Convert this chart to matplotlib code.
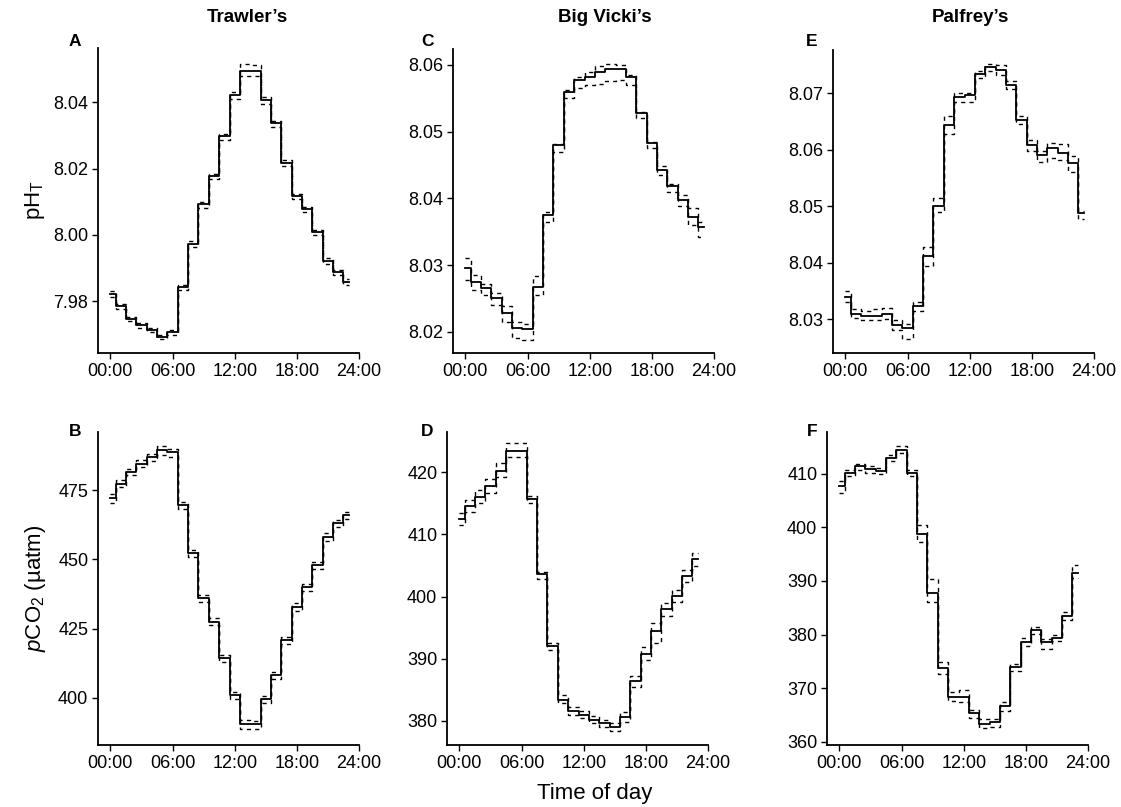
import matplotlib
matplotlib.use("Agg")
import matplotlib.pyplot as plt

plt.rcParams['font.family'] = ['Liberation Sans', 'DejaVu Sans']
plt.rcParams['mathtext.fontset'] = 'custom'
plt.rcParams['mathtext.rm'] = 'Liberation Sans'
plt.rcParams['mathtext.it'] = 'Liberation Sans:italic'
plt.rcParams['mathtext.bf'] = 'Liberation Sans:bold'

# ---------------- data ----------------
hours = list(range(24))
sites = ["Trawler\u2019s", "Big Vicki\u2019s", "Palfrey\u2019s"]
xtick_vals = [0, 6, 12, 18, 24]
xtick_labels = ["00:00", "06:00", "12:00", "18:00", "24:00"]

# Trawler's pH (A)
A_mid = [7.9822, 7.9784, 7.9747, 7.9727, 7.9712, 7.9692, 7.9705, 7.9842, 7.9972, 8.0092, 8.0177, 8.0297,
         8.0422, 8.0494, 8.0494, 8.0407, 8.0337, 8.0217, 8.0117, 8.0077, 8.0007, 7.9922, 7.9887, 7.9857]
A_hi = [7.9830, 7.9792, 7.9752, 7.9733, 7.9718, 7.9698, 7.9712, 7.9848, 7.9980, 8.0100, 8.0185, 8.0305,
        8.0432, 8.0515, 8.0512, 8.0415, 8.0345, 8.0225, 8.0123, 8.0085, 8.0013, 7.9930, 7.9893, 7.9865]
A_lo = [7.9812, 7.9776, 7.9740, 7.9720, 7.9705, 7.9684, 7.9697, 7.9832, 7.9962, 8.0082, 8.0168, 8.0287,
        8.0410, 8.0480, 8.0478, 8.0395, 8.0325, 8.0207, 8.0108, 8.0068, 7.9998, 7.9912, 7.9878, 7.9848]

# Trawler's pCO2 (B)
B_mid = [472.0, 477.4, 481.6, 484.6, 486.8, 489.4, 488.8, 469.6, 452.2, 436.0, 427.5, 414.3,
         401.1, 390.5, 390.5, 399.5, 408.3, 420.9, 432.9, 440.1, 448.0, 458.2, 463.0, 466.0]
B_hi = [473.5, 478.6, 482.8, 485.8, 488.0, 490.8, 489.8, 470.8, 453.4, 437.2, 428.8, 415.5,
        402.3, 392.0, 391.8, 400.8, 409.5, 422.1, 434.1, 441.3, 449.2, 459.4, 464.2, 467.2]
B_lo = [470.4, 476.0, 480.4, 483.2, 485.5, 487.8, 486.8, 468.2, 450.9, 434.6, 426.2, 413.0,
        399.6, 388.6, 388.8, 398.0, 407.0, 419.4, 431.5, 438.7, 446.6, 456.8, 461.6, 464.6]

# Big Vicki's pH (C)
C_mid = [8.0295, 8.0275, 8.0265, 8.0250, 8.0228, 8.0205, 8.0204, 8.0267, 8.0375, 8.0480, 8.0560, 8.0578,
         8.0582, 8.0590, 8.0594, 8.0594, 8.0582, 8.0528, 8.0483, 8.0443, 8.0418, 8.0398, 8.0372, 8.0357]
C_hi = [8.0310, 8.0285, 8.0272, 8.0258, 8.0238, 8.0215, 8.0212, 8.0283, 8.0380, 8.0482, 8.0562, 8.0582,
        8.0590, 8.0598, 8.0602, 8.0600, 8.0585, 8.0530, 8.0485, 8.0448, 8.0422, 8.0405, 8.0385, 8.0365]
C_lo = [8.0278, 8.0262, 8.0255, 8.0240, 8.0215, 8.0190, 8.0188, 8.0255, 8.0365, 8.0470, 8.0550, 8.0565,
        8.0570, 8.0572, 8.0576, 8.0577, 8.0570, 8.0520, 8.0475, 8.0435, 8.0410, 8.0388, 8.0360, 8.0342]

# Big Vicki's pCO2 (D)
D_mid = [412.5, 414.6, 416.0, 417.8, 420.3, 423.5, 423.5, 415.7, 403.6, 392.0, 383.4, 381.5,
         381.0, 380.2, 379.6, 379.0, 380.6, 386.4, 390.7, 394.5, 398.0, 400.1, 403.3, 406.0]
D_hi = [413.5, 415.6, 417.2, 419.0, 421.5, 424.8, 424.8, 416.2, 404.0, 392.5, 384.2, 382.2,
        381.6, 380.8, 380.2, 379.6, 381.4, 387.2, 391.8, 395.8, 399.0, 401.0, 404.2, 407.0]
D_lo = [411.5, 413.6, 415.0, 416.6, 419.2, 422.5, 422.4, 415.0, 402.8, 391.4, 382.8, 380.9,
        380.4, 379.6, 379.0, 378.4, 379.8, 385.5, 389.8, 392.5, 396.8, 399.2, 402.3, 405.0]

# Palfrey's pH (E)
E_mid = [8.0340, 8.0310, 8.0305, 8.0305, 8.0310, 8.0290, 8.0285, 8.0323, 8.0412, 8.0500, 8.0644, 8.0694,
         8.0697, 8.0735, 8.0747, 8.0741, 8.0715, 8.0653, 8.0609, 8.0591, 8.0603, 8.0594, 8.0576, 8.0488]
E_hi = [8.0350, 8.0318, 8.0315, 8.0318, 8.0320, 8.0298, 8.0292, 8.0330, 8.0428, 8.0515, 8.0660, 8.0700,
        8.0700, 8.0740, 8.0753, 8.0750, 8.0722, 8.0660, 8.0618, 8.0598, 8.0612, 8.0610, 8.0590, 8.0492]
E_lo = [8.0330, 8.0302, 8.0298, 8.0298, 8.0300, 8.0280, 8.0265, 8.0315, 8.0395, 8.0490, 8.0628, 8.0685,
        8.0685, 8.0728, 8.0740, 8.0732, 8.0708, 8.0645, 8.0598, 8.0578, 8.0585, 8.0582, 8.0560, 8.0478]

# Palfrey's pCO2 (F)
F_mid = [407.7, 410.2, 411.4, 410.9, 410.5, 413.0, 414.5, 410.2, 398.7, 387.8, 373.7, 368.4,
         368.4, 365.3, 363.4, 363.6, 366.6, 374.0, 378.7, 380.9, 378.7, 379.3, 383.4, 391.5]
F_hi = [408.6, 410.8, 411.9, 411.4, 411.0, 413.6, 415.2, 410.8, 400.4, 390.3, 374.8, 369.2,
        369.6, 365.9, 364.2, 364.3, 367.4, 374.6, 379.4, 381.5, 379.2, 380.0, 384.2, 393.0]
F_lo = [406.4, 409.5, 410.8, 410.2, 409.9, 412.4, 413.8, 409.5, 397.2, 386.0, 372.6, 367.6,
        367.5, 364.5, 362.6, 362.8, 365.8, 373.2, 377.8, 380.2, 377.4, 378.8, 382.7, 390.6]

A_ticks = [7.98, 8.00, 8.02, 8.04]
B_ticks = [400, 425, 450, 475]
C_ticks = [8.02, 8.03, 8.04, 8.05, 8.06]
D_ticks = [380, 390, 400, 410, 420]
E_ticks = [8.03, 8.04, 8.05, 8.06, 8.07]
F_ticks = [360, 370, 380, 390, 400, 410]

# ---------------- layout ----------------
W, H = 1121, 807
fig = plt.figure(figsize=(W / 100, H / 100), dpi=100)

def rect(l, t, r, b):
    return [l / W, 1 - b / H, (r - l) / W, (b - t) / H]

panels = [
    ("A", rect(98, 48, 359, 353), A_mid, A_hi, A_lo, A_ticks, (7.9643, 8.0564), "{:.2f}"),
    ("B", rect(98, 432, 359, 745), B_mid, B_hi, B_lo, B_ticks, (383.0, 496.0), "{:.0f}"),
    ("C", rect(453, 49, 714, 353), C_mid, C_hi, C_lo, C_ticks, (8.0168, 8.0624), "{:.2f}"),
    ("D", rect(447, 432, 708, 745), D_mid, D_hi, D_lo, D_ticks, (376.1, 426.5), "{:.0f}"),
    ("E", rect(833, 50, 1094, 353), E_mid, E_hi, E_lo, E_ticks, (8.0240, 8.0777), "{:.2f}"),
    ("F", rect(827, 432, 1088, 745), F_mid, F_hi, F_lo, F_ticks, (359.4, 417.8), "{:.0f}"),
]

for letter, r, mid, hi, lo, ticks, ylim, fmt in panels:
    ax = fig.add_axes(r)
    ax.step(hours, lo, where='mid', color='black', lw=1.0, ls=(0, (3, 3)))
    ax.step(hours, hi, where='mid', color='black', lw=1.0, ls=(0, (3, 3)))
    ax.step(hours, mid, where='mid', color='black', lw=1.3)
    ax.set_xlim(-1.2, 24.0)
    ax.set_ylim(*ylim)
    ax.set_xticks(xtick_vals)
    ax.set_xticklabels(xtick_labels)
    ax.set_yticks(ticks)
    ax.set_yticklabels([fmt.format(t) for t in ticks])
    for s in ['top', 'right']:
        ax.spines[s].set_visible(False)
    for s in ['left', 'bottom']:
        ax.spines[s].set_linewidth(1.3)
    ax.tick_params(axis='both', direction='out', length=4, width=1.0, labelsize=13,
                   colors='black', pad=3)
    ax.set_facecolor('white')

# panel letters
for letter, x, y in [("A", 75, 42), ("B", 75, 432), ("C", 428, 42), ("D", 427, 432),
                     ("E", 812, 42), ("F", 812, 432)]:
    fig.text(x / W, 1 - y / H, letter, fontsize=12.5, fontweight='bold', ha='center', va='center')

# site titles
for name, x in zip(sites, [247, 605, 970]):
    fig.text(x / W, 1 - 18 / H, name, fontsize=13.5, fontweight='bold', ha='center', va='center')

# axis labels
fig.text(35 / W, 1 - 200 / H, r'pH$_\mathrm{T}$', fontsize=16, rotation=90, ha='center', va='center')
fig.text(35 / W, 1 - 588 / H, '$p$CO$_2$ (\u00b5atm)', fontsize=16,
         rotation=90, ha='center', va='center')
fig.text(595 / W, 1 - 794 / H, 'Time of day', fontsize=16, ha='center', va='center')

fig.savefig('out.png', dpi=100, facecolor='white')
